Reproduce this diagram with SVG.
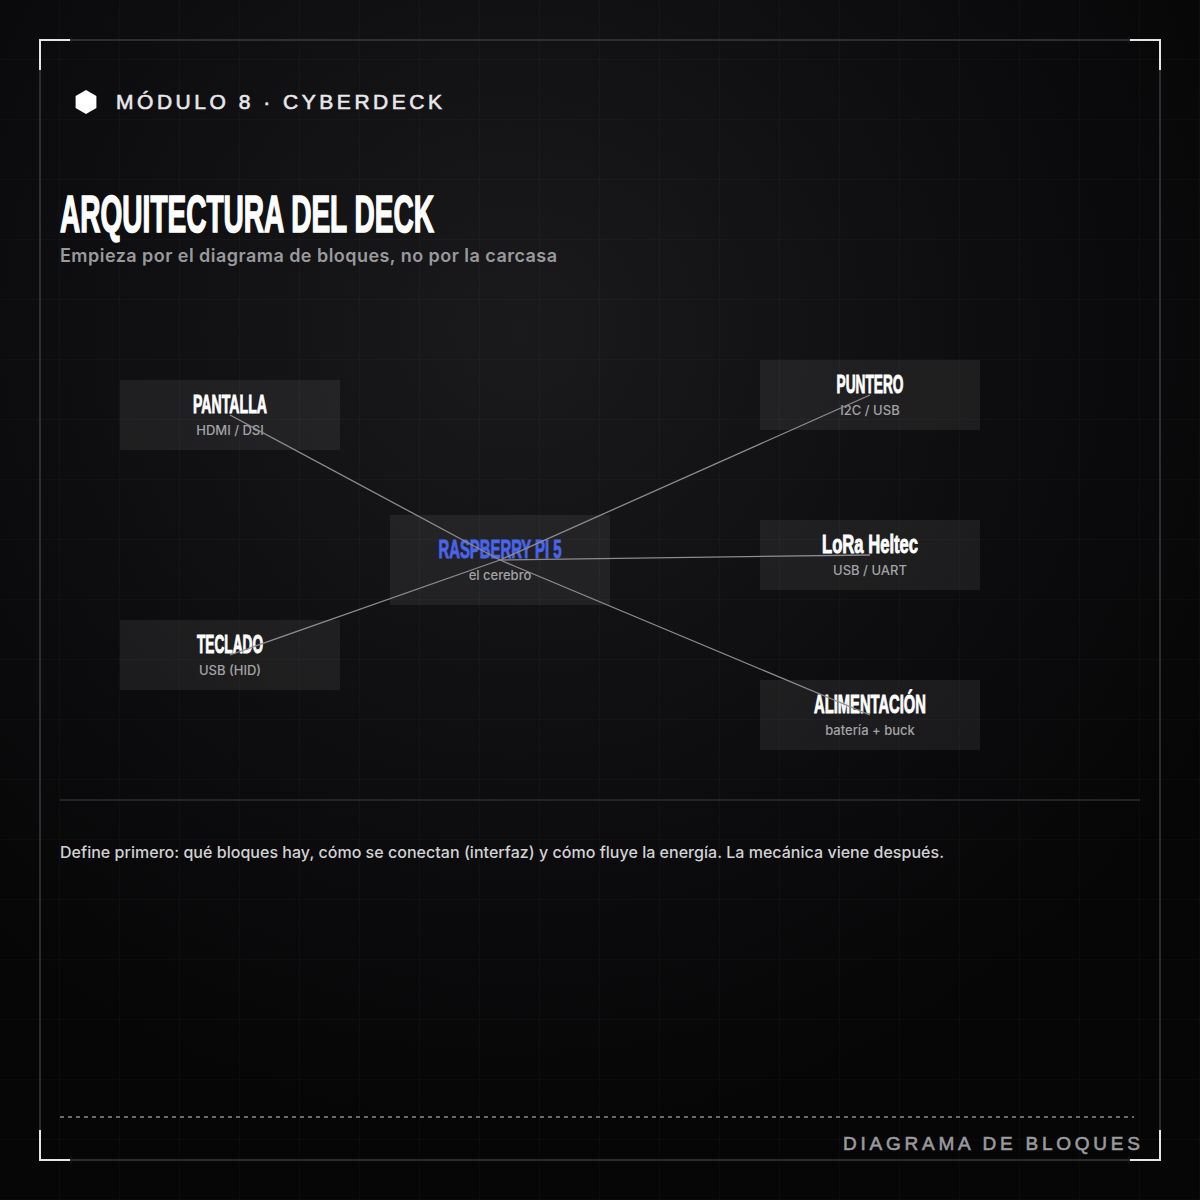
<svg xmlns="http://www.w3.org/2000/svg" width="1200" height="1200" viewBox="0 0 1200 1200">
<defs>
<radialGradient id="bg" cx="520" cy="330" r="800" gradientUnits="userSpaceOnUse">
<stop offset="0" stop-color="#1a1a1d"/>
<stop offset="0.6" stop-color="#0d0d0f"/>
<stop offset="1" stop-color="#060607"/>
</radialGradient>
<pattern id="grid" width="60" height="60" patternUnits="userSpaceOnUse">
<path d="M60 0V60M0 60H60" fill="none" stroke="#ffffff" stroke-opacity="0.035" stroke-width="1"/>
</pattern>
<style>
.frame{fill:none;stroke:#3a3a3d;stroke-width:1.5}
.corner{fill:none;stroke:#e6e6e6;stroke-width:2}
.box{fill:#ffffff;fill-opacity:0.065}
.ntitle{font-family:"Liberation Sans",Arial,sans-serif;font-weight:700;font-size:25px;fill:#ffffff;stroke:#ffffff;stroke-width:0.9;text-anchor:middle}
.nsub{font-family:Inter,"Liberation Sans",sans-serif;font-weight:500;font-size:13px;fill:#a3a3a6;text-anchor:middle}
.conn{stroke:#8c8c90;stroke-width:1.3;fill:none}
</style>
</defs>
<rect width="1200" height="1200" fill="url(#bg)"/>
<rect width="1200" height="1200" fill="url(#grid)"/>
<rect class="frame" x="40" y="40" width="1120" height="1120"/>
<path class="corner" d="M40 70V40H70M1130 40H1160V70M1160 1130V1160H1130M70 1160H40V1130"/>

<g id="header">
<polygon points="86,90 96.4,96 96.4,108 86,114 75.6,108 75.6,96" fill="#ffffff"/>
<text x="116" y="109" font-family="Liberation Sans,Arial,sans-serif" font-weight="400" font-size="21" fill="#e8e8ea" stroke="#e8e8ea" stroke-width="0.6" textLength="326" lengthAdjust="spacing">MÓDULO 8 · CYBERDECK</text>
</g>
<text x="60" y="232" font-family="Liberation Sans,Arial,sans-serif" font-weight="700" font-size="51" fill="#ffffff" stroke="#ffffff" stroke-width="1.6" textLength="374" lengthAdjust="spacingAndGlyphs">ARQUITECTURA DEL DECK</text>
<text x="60" y="262" font-family="Inter,Liberation Sans,sans-serif" font-weight="600" font-size="18" fill="#9a9a9d" textLength="497" lengthAdjust="spacing">Empieza por el diagrama de bloques, no por la carcasa</text>

<g id="node-pantalla">
<rect class="box" x="120" y="380" width="220" height="70"/>
<text class="ntitle" x="230" y="413" textLength="74" lengthAdjust="spacingAndGlyphs">PANTALLA</text>
<text class="nsub" x="230" y="435">HDMI / DSI</text>
</g>
<g id="node-puntero">
<rect class="box" x="760" y="360" width="220" height="70"/>
<text class="ntitle" x="870" y="393" textLength="67" lengthAdjust="spacingAndGlyphs">PUNTERO</text>
<text class="nsub" x="870" y="415">I2C / USB</text>
</g>
<g id="node-rpi">
<rect class="box" x="390" y="515" width="220" height="90"/>
<text class="ntitle" x="500" y="558" style="fill:#4a64ea;stroke:#4a64ea" textLength="123" lengthAdjust="spacingAndGlyphs">RASPBERRY PI 5</text>
<text class="nsub" x="500" y="580">el cerebro</text>
</g>
<g id="node-lora">
<rect class="box" x="760" y="520" width="220" height="70"/>
<text class="ntitle" x="870" y="553" textLength="96" lengthAdjust="spacingAndGlyphs">LoRa Heltec</text>
<text class="nsub" x="870" y="575">USB / UART</text>
</g>
<g id="node-teclado">
<rect class="box" x="120" y="620" width="220" height="70"/>
<text class="ntitle" x="230" y="653" textLength="66" lengthAdjust="spacingAndGlyphs">TECLADO</text>
<text class="nsub" x="230" y="675">USB (HID)</text>
</g>
<g id="node-alimentacion">
<rect class="box" x="760" y="680" width="220" height="70"/>
<text class="ntitle" x="870" y="713" textLength="112" lengthAdjust="spacingAndGlyphs">ALIMENTACIÓN</text>
<text class="nsub" x="870" y="735">batería + buck</text>
</g>

<g id="connectors">
<line class="conn" x1="500" y1="560" x2="230" y2="415"/>
<line class="conn" x1="500" y1="560" x2="870" y2="395"/>
<line class="conn" x1="500" y1="560" x2="870" y2="555"/>
<line class="conn" x1="500" y1="560" x2="230" y2="655"/>
<line class="conn" x1="500" y1="560" x2="870" y2="715"/>
</g>

<line x1="60" y1="800" x2="1140" y2="800" stroke="#2c2c2f" stroke-width="1.5"/>
<text x="60" y="858" font-family="Inter,Liberation Sans,sans-serif" font-weight="500" font-size="16" fill="#d2d2d4" textLength="884" lengthAdjust="spacing">Define primero: qué bloques hay, cómo se conectan (interfaz) y cómo fluye la energía. La mecánica viene después.</text>
<line x1="60" y1="1117" x2="1134" y2="1117" stroke="#8a8a8d" stroke-width="1.3" stroke-dasharray="4 4"/>
<text x="1140" y="1150" text-anchor="end" font-family="Liberation Sans,Arial,sans-serif" font-weight="400" font-size="19" fill="#9a9a9d" stroke="#9a9a9d" stroke-width="0.6" textLength="297" lengthAdjust="spacing">DIAGRAMA DE BLOQUES</text>
</svg>
